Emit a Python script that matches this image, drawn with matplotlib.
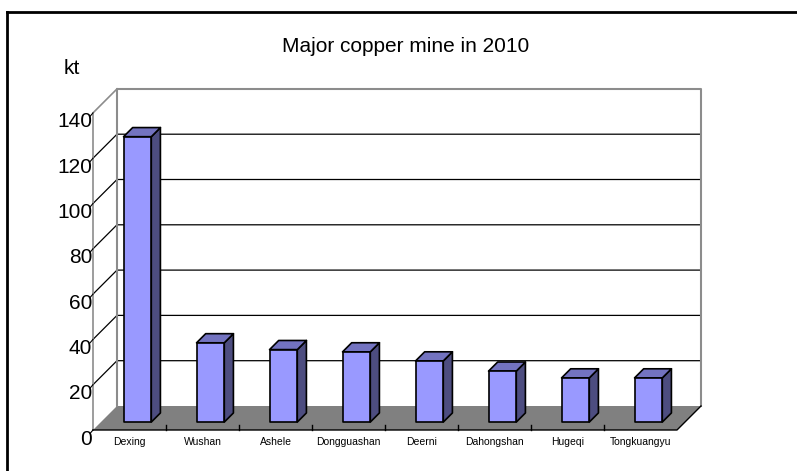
import matplotlib
matplotlib.use("Agg")
import matplotlib.pyplot as plt
from matplotlib.patches import Polygon
import numpy as np

# Data
mines = ['Dexing', 'Wushan', 'Ashele', 'Dongguashan', 'Deerni',
         'Dahongshan', 'Hugeqi', 'Tongkuangyu']
output_kt = [126, 35, 32, 31, 27, 22.5, 19.5, 19.5]
y_ticks = [0, 20, 40, 60, 80, 100, 120, 140]

plt.rcParams['font.family'] = ['Liberation Sans', 'DejaVu Sans']

# oblique 3d look: depth shift in data units (x in categories, y in kt)
DX = 24 / 73.0
DY = 24 / 45.3 * 20
n = len(mines)
ymax = 140


def proj(x, v, z):
    return (x + z * DX, v + z * DY)


fig = plt.figure(figsize=(7.97, 4.71), dpi=100)
ax = fig.add_axes([0, 0, 1, 1])
ax.set_xlim(-93 / 73.0, (797 - 93) / 73.0)
ax.set_ylim((430 - 471) / 45.3 * 20, 430 / 45.3 * 20)
ax.axis('off')

# outer frame
ax.plot([-86 / 73.0, -86 / 73.0], [(430 - 471) / 45.3 * 20, (430 - 12) / 45.3 * 20],
        color='black', lw=2, clip_on=False)
ax.plot([-86 / 73.0, 9.7], [(430 - 12) / 45.3 * 20] * 2, color='black', lw=2, clip_on=False)

# floor
floor = [proj(0, 0, 0), proj(n, 0, 0), proj(n, 0, 1), proj(0, 0, 1)]
ax.add_patch(Polygon(floor, closed=True, facecolor='#808080', edgecolor='none', zorder=1))
fx, fy = zip(*[proj(0, 0, 0), proj(n, 0, 0), proj(n, 0, 1)])
ax.plot(fx, fy, color='black', lw=1, zorder=3)
for i in range(1, n):
    a = proj(i, 0, 0)
    ax.plot([a[0], a[0]], [a[1], a[1] + 2.2], color='black', lw=1, zorder=3)

# back wall and side wall
for t in y_ticks[1:-1]:
    p0, p1, p2 = proj(0, t, 0), proj(0, t, 1), proj(n, t, 1)
    ax.plot([p0[0], p1[0], p2[0]], [p0[1], p1[1], p2[1]], color='black', lw=0.9, zorder=2)
wx, wy = zip(*[proj(0, 0, 1), proj(0, ymax, 1), proj(n, ymax, 1), proj(n, 0, 1)])
ax.plot(wx, wy, color='#8c8c8c', lw=1.5, zorder=2)
sx, sy = zip(*[proj(0, 0, 0), proj(0, ymax, 0), proj(0, ymax, 1)])
ax.plot(sx, sy, color='#8c8c8c', lw=1.2, zorder=2)

# y tick labels
for t in y_ticks:
    p = proj(0, t, 0)
    ax.plot([p[0] - 0.04, p[0]], [p[1] - 1.5, p[1]], color='black', lw=0.8, zorder=3)
    ax.text(p[0] - 0.01, p[1] - 4, str(t), ha='right', va='center', fontsize=15)

# bars
w = 0.38
z0, z1 = 0.33, 0.71
for i, (name, v) in enumerate(zip(mines, output_kt)):
    x0 = i + 0.5 - w / 2
    x1 = i + 0.5 + w / 2
    front = [proj(x0, 0, z0), proj(x1, 0, z0), proj(x1, v, z0), proj(x0, v, z0)]
    side = [proj(x1, 0, z0), proj(x1, 0, z1), proj(x1, v, z1), proj(x1, v, z0)]
    top = [proj(x0, v, z0), proj(x1, v, z0), proj(x1, v, z1), proj(x0, v, z1)]
    for pts, col in [(side, '#4d4d80'), (top, '#7373c0'), (front, '#9999ff')]:
        ax.add_patch(Polygon(pts, closed=True, facecolor=col, edgecolor='black',
                             lw=1.2, joinstyle='round', zorder=4))
    ax.text(i + 0.5, -5.5, name, ha='center', va='center', fontsize=7.5)

fig.text(406 / 797, 1 - 46 / 471, 'Major copper mine in 2010', ha='center', va='center',
         fontsize=15)
fig.text(72 / 797, 1 - 69 / 471, 'kt', ha='center', va='center', fontsize=15)

fig.savefig('out.png', dpi=100)
